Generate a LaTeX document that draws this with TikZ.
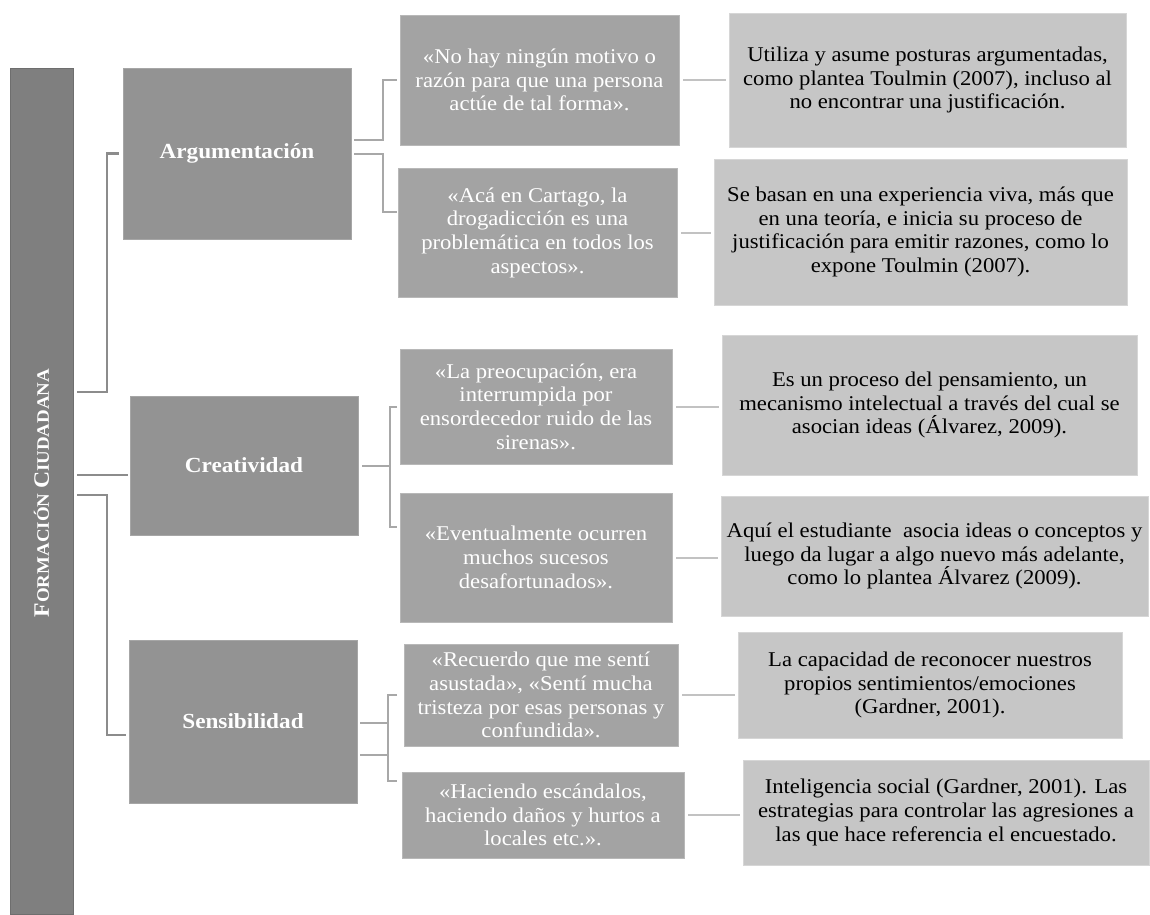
\documentclass[tikz,border=0pt]{standalone}
\usepackage{fontspec}
\setmainfont{Liberation Serif}[FakeStretch=1.08]
\usetikzlibrary{calc}
\definecolor{rootc}{HTML}{7F7F7F}
\definecolor{rootb}{HTML}{6E6E6E}
\definecolor{onec}{HTML}{939393}
\definecolor{oneb}{HTML}{A6A6A6}
\definecolor{qc}{HTML}{A3A3A3}
\definecolor{qb}{HTML}{B8B8B8}
\definecolor{rc}{HTML}{C6C6C6}
\definecolor{rb}{HTML}{D6D6D6}
\definecolor{lineone}{HTML}{8C8C8C}
\definecolor{linetwo}{HTML}{A8A8A8}
\definecolor{linethree}{HTML}{C2C2C2}
\begin{document}
\begin{tikzpicture}[x=1pt,y=-1pt,
  box/.style={rectangle, inner sep=0pt, outer sep=0pt, anchor=north west, align=center},
  rootbox/.style={box, fill=rootc, draw=rootb, line width=1pt},
  onebox/.style={box, fill=onec, draw=oneb, line width=0.8pt, text=white, font=\fontsize{21.5}{24}\selectfont\bfseries},
  qbox/.style={box, fill=qc, draw=qb, line width=0.8pt, text=white, font=\fontsize{21}{23.7}\selectfont},
  rbox/.style={box, fill=rc, draw=rb, line width=0.8pt, text=black, font=\fontsize{21}{23.7}\selectfont},
  rootline/.style={draw=lineone, line width=2.4pt},
  brline/.style={draw=linetwo, line width=2pt},
  qrline/.style={draw=linethree, line width=2pt}]
\useasboundingbox (0,0) rectangle (1150,914);
\fill[white] (0,0) rectangle (1150,914);

% root
\node[rootbox, minimum width=63pt, minimum height=846pt] (root) at (10,68) {};
\node[rotate=90, text=white, font=\bfseries, inner sep=0pt] (roottext) at (41.5,493)
  {\fontsize{22}{22}\selectfont F\fontsize{17.5}{17.5}\selectfont ORMACIÓN \fontsize{22}{22}\selectfont C\fontsize{17.5}{17.5}\selectfont IUDADANA};

% level 1
\node[onebox, minimum width=228pt, minimum height=171pt] (arg) at (123,68) {Argumentación};
\node[onebox, minimum width=228pt, minimum height=139pt] (cre) at (130,396) {Creatividad};
\node[onebox, minimum width=228pt, minimum height=163pt] (sen) at (129,640) {Sensibilidad};

% quotes
\node[qbox, minimum width=279pt, minimum height=130pt] (q1) at (400,15)
  {«No hay ningún motivo o\\razón para que una persona\\actúe de tal forma».};
\node[qbox, minimum width=279pt, minimum height=129pt] (q2) at (398,168)
  {«Acá en Cartago, la\\drogadicción es una\\problemática en todos los\\aspectos».};
\node[qbox, minimum width=272pt, minimum height=115pt] (q3) at (400,349)
  {«La preocupación, era\\interrumpida por\\ensordecedor ruido de las\\sirenas».};
\node[qbox, minimum width=272pt, minimum height=129pt] (q4) at (400,493)
  {«Eventualmente ocurren\\muchos sucesos\\desafortunados».};
\node[qbox, minimum width=274pt, minimum height=102pt] (q5) at (404,644)
  {«Recuerdo que me sentí\\asustada», «Sentí mucha\\tristeza por esas personas y\\confundida».};
\node[qbox, minimum width=282pt, minimum height=86pt] (q6) at (402,772)
  {«Haciendo escándalos,\\haciendo daños y hurtos a\\locales etc.».};

% interpretations
\node[rbox, minimum width=397pt, minimum height=134pt] (r1) at (729,13)
  {Utiliza y asume posturas argumentadas,\\como plantea Toulmin (2007), incluso al\\no encontrar una justificación.};
\node[rbox, minimum width=413pt, minimum height=146pt] (r2) at (714,159)
  {Se basan en una experiencia viva, más que\\en una teoría, e inicia su proceso de\\justificación para emitir razones, como lo\\expone Toulmin (2007).};
\node[rbox, minimum width=415pt, minimum height=140pt] (r3) at (722,335)
  {Es un proceso del pensamiento, un\\mecanismo intelectual a través del cual se\\asocian ideas (Álvarez, 2009).};
\node[rbox, minimum width=427pt, minimum height=120pt] (r4) at (721,496)
  {Aquí el estudiante\ \ asocia ideas o conceptos y\\luego da lugar a algo nuevo más adelante,\\como lo plantea Álvarez (2009).};
\node[rbox, minimum width=384pt, minimum height=106pt] (r5) at (738,632)
  {La capacidad de reconocer nuestros\\propios sentimientos/emociones\\(Gardner, 2001).};
\node[rbox, minimum width=406pt, minimum height=105pt] (r6) at (743,760)
  {Inteligencia social (Gardner, 2001). Las\\estrategias para controlar las agresiones a\\las que hace referencia el encuestado.};

% root -> level 1
\coordinate (ra) at ($(root.east)+(4pt,99pt)$);
\draw[rootline] (ra) -- ++(30pt,0pt) |- ($(arg.west)+(-4pt,0pt)$);
\coordinate (rc) at ($(root.east)+(4pt,16pt)$);
\draw[rootline] (rc) -- ($(rc -| cre.west)+(-2pt,0pt)$);
\coordinate (rs) at ($(root.east)+(4pt,-4pt)$);
\draw[rootline] (rs) -- ++(30pt,0pt) |- ($(sen.west)+(-3pt,-13.5pt)$);

% level 1 -> quotes
\draw[brline] ($(arg.east)+(3pt,13.5pt)$) -- ++(29pt,0pt) |- ($(q1.west)+(-3pt,0pt)$);
\draw[brline] ($(arg.east)+(3pt,0pt)$) -- ++(29pt,0pt) |- ($(q2.west)+(-1pt,20.5pt)$);

\draw[brline] ($(q3.west)+(-3pt,0pt)$) -- ++(-7pt,0pt) coordinate (cb) |- ($(q4.west)+(-3pt,30.5pt)$);
\draw[brline] ($(cre.east)+(4pt,0pt)$) -- (cb |- cre.east);

\draw[brline] ($(q5.west)+(-7pt,0pt)$) -- ++(-9pt,0pt) coordinate (sb) |- ($(q6.west)+(-5pt,34pt)$);
\coordinate (s1) at ($(sen.east)+(3pt,-1.5pt)$);
\coordinate (s2) at ($(sen.east)+(3pt,-33.5pt)$);
\draw[brline] (s1) -- (s1 -| sb);
\draw[brline] (s2) -- (s2 -| sb);

% quotes -> interpretations
\draw[qrline] ($(q1.east)+(4pt,0pt)$) -- ($(q1.east -| r1.west)+(-3pt,0pt)$);
\draw[qrline] ($(q2.east)+(4pt,0pt)$) -- ($(q2.east -| r2.west)+(-3pt,0pt)$);
\draw[qrline] ($(q3.east)+(4pt,0pt)$) -- ($(q3.east -| r3.west)+(-3pt,0pt)$);
\draw[qrline] ($(q4.east)+(4pt,0pt)$) -- ($(q4.east -| r4.west)+(-3pt,0pt)$);
\draw[qrline] ($(q5.east)+(4pt,0pt)$) -- ($(q5.east -| r5.west)+(-3pt,0pt)$);
\draw[qrline] ($(q6.east)+(4pt,0pt)$) -- ($(q6.east -| r6.west)+(-3pt,0pt)$);
\end{tikzpicture}
\end{document}
